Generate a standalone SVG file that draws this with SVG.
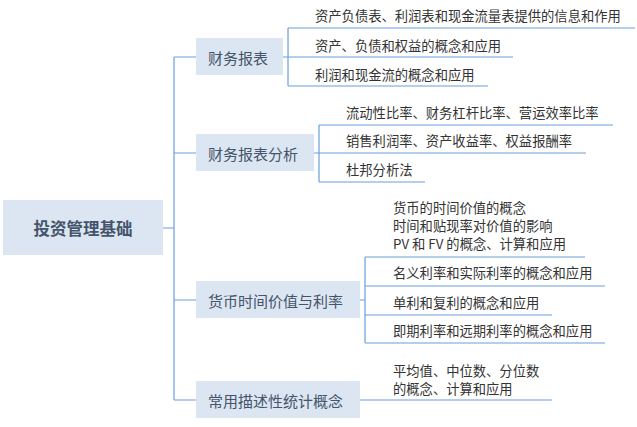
<svg xmlns="http://www.w3.org/2000/svg" width="637" height="427" viewBox="0 0 637 427">
<style>
.box{fill:#dce6f2;}
.t1{font-family:"Noto Sans CJK SC","Noto Sans",sans-serif;font-size:15px;fill:#44546a;dominant-baseline:central;}
.root{font-family:"Noto Sans CJK SC","Noto Sans",sans-serif;font-size:16.5px;font-weight:bold;fill:#44546a;dominant-baseline:central;text-anchor:middle;}
.lf{font-family:"Noto Sans CJK SC","Noto Sans",sans-serif;font-size:13.3px;fill:#333333;dominant-baseline:central;}
.ln{fill:none;stroke:#6a9fdc;stroke-width:1.2;}
</style>
<rect width="637" height="427" fill="#ffffff"/>
<g id="connectors">
<path class="ln" d="M163 228H174M174 57V400M174 57H196M174 153H196M174 300H196M174 400H196"/>
<path class="ln" d="M283 57H288M288 28V86M288 28H635M288 57H513M288 86H488"/>
<path class="ln" d="M314 153H319M319 125V182M319 125H613M319 153H586M319 182H425"/>
<path class="ln" d="M360 300H365M365 257V343M365 257H585M365 286H605M365 315H552M365 343H605"/>
<path class="ln" d="M360 400H552"/>
</g>
<g id="root">
<rect class="box" x="3" y="200" width="160" height="55"/>
<text class="root" x="83" y="228">投资管理基础</text>
</g>
<g id="n1">
<rect class="box" x="196" y="38" width="87" height="37"/>
<text class="t1" x="208" y="57">财务报表</text>
</g>
<g id="n1a"><text class="lf" x="315" y="15">资产负债表、利润表和现金流量表提供的信息和作用</text></g>
<g id="n1b"><text class="lf" x="315" y="45">资产、负债和权益的概念和应用</text></g>
<g id="n1c"><text class="lf" x="315" y="74">利润和现金流的概念和应用</text></g>
<g id="n2">
<rect class="box" x="196" y="134" width="118" height="37"/>
<text class="t1" x="208" y="153">财务报表分析</text>
</g>
<g id="n2a"><text class="lf" x="346" y="112">流动性比率、财务杠杆比率、营运效率比率</text></g>
<g id="n2b"><text class="lf" x="346" y="140">销售利润率、资产收益率、权益报酬率</text></g>
<g id="n2c"><text class="lf" x="346" y="169">杜邦分析法</text></g>
<g id="n3">
<rect class="box" x="196" y="281" width="164" height="37"/>
<text class="t1" x="208" y="300">货币时间价值与利率</text>
</g>
<g id="n3a">
<text class="lf" x="393" y="207">货币的时间价值的概念</text>
<text class="lf" x="393" y="225">时间和贴现率对价值的影响</text>
<text class="lf" x="393" y="243">PV 和 FV 的概念、计算和应用</text>
</g>
<g id="n3b"><text class="lf" x="393" y="272">名义利率和实际利率的概念和应用</text></g>
<g id="n3c"><text class="lf" x="393" y="302">单利和复利的概念和应用</text></g>
<g id="n3d"><text class="lf" x="393" y="330">即期利率和远期利率的概念和应用</text></g>
<g id="n4">
<rect class="box" x="196" y="381" width="164" height="37"/>
<text class="t1" x="208" y="400">常用描述性统计概念</text>
</g>
<g id="n4a">
<text class="lf" x="393" y="370">平均值、中位数、分位数</text>
<text class="lf" x="393" y="388">的概念、计算和应用</text>
</g>
</svg>
